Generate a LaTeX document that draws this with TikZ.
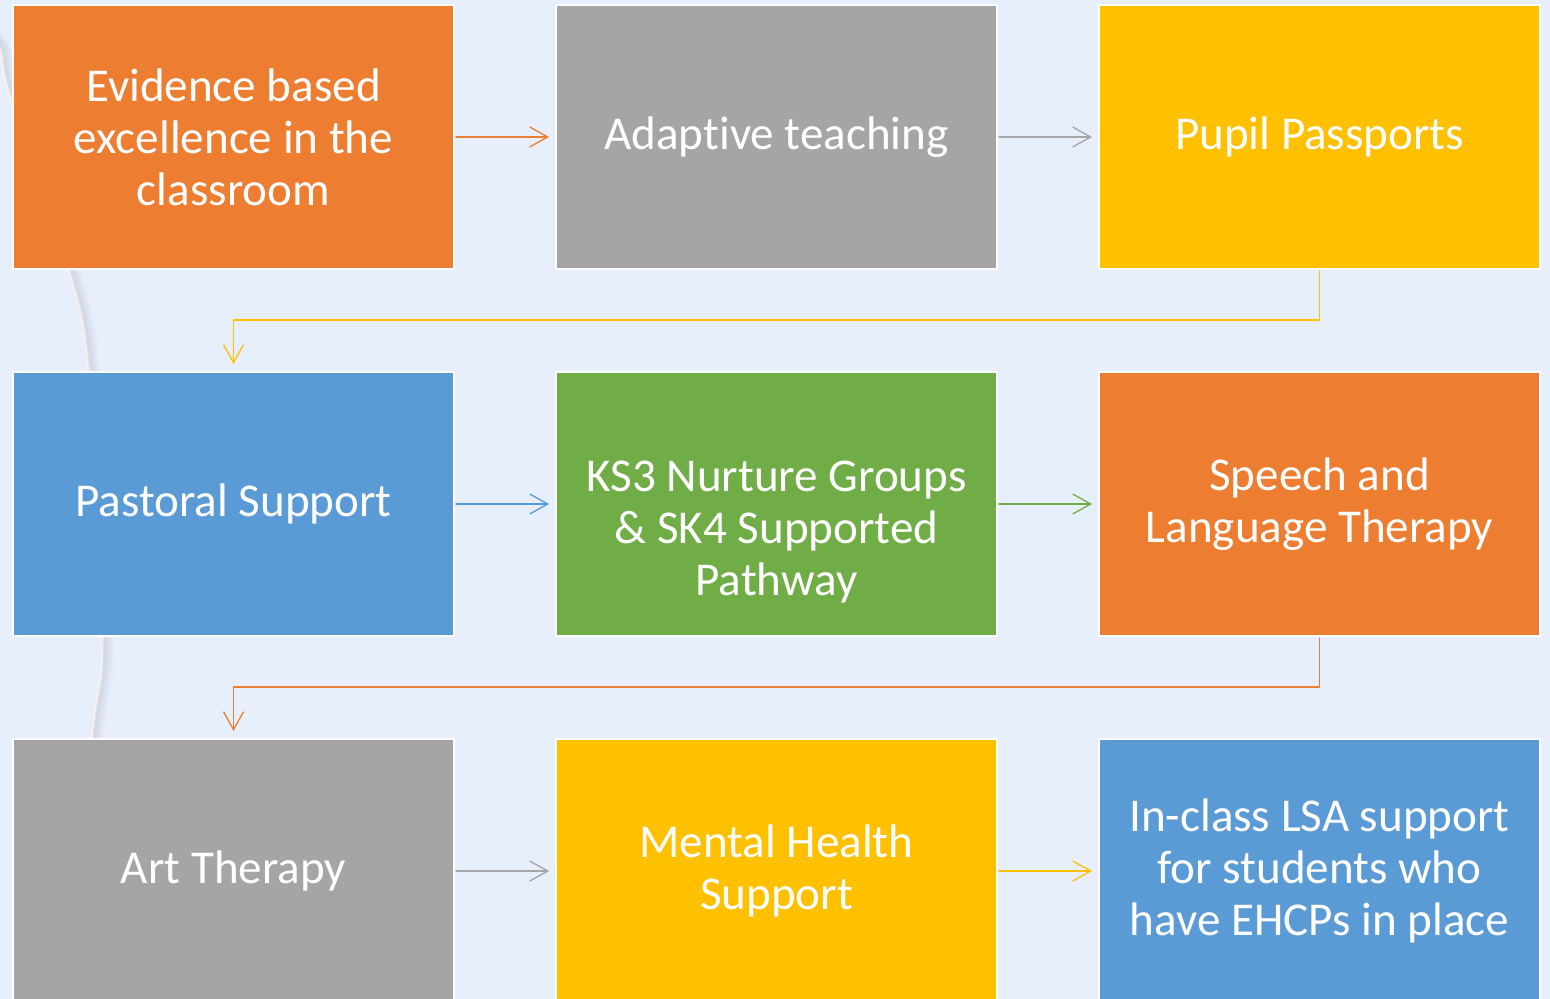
\documentclass[tikz,border=0pt]{standalone}
\usepackage{fontspec}
\setmainfont[Ligatures=NoCommon]{Carlito}
\usetikzlibrary{arrows.meta}
\definecolor{bgblue}{HTML}{E8EFFC}
\definecolor{cOrange}{HTML}{ED7D31}
\definecolor{cGray}{HTML}{A5A5A5}
\definecolor{cYellow}{HTML}{FFC000}
\definecolor{cBlue}{HTML}{5B9BD5}
\definecolor{cGreen}{HTML}{70AD47}
\tikzset{
  stagebox/.style={draw=white,line width=1.2pt,fill=#1,minimum width=8.82cm,minimum height=5.28cm,
    inner sep=0pt,outer sep=0pt,text=white,align=center,font=\fontsize{26.8}{29.6}\selectfont},
  boxtext/.style={text=white,align=center,font=\fontsize{26.8}{29.6}\selectfont},
  flow/.style={draw=#1,line width=0.75pt,-{Straight Barb[length=0.36cm,width=0.4cm,line width=0.75pt]},
    shorten <=0.04cm,shorten >=0.14cm}
}
\begin{document}
\begin{tikzpicture}[x=0.02cm,y=-0.02cm,line cap=round,line join=round]
			\useasboundingbox (0,0) rectangle (1550,999);
			\clip (0,0) rectangle (1550,999);
			\fill[bgblue] (0,0) rectangle (1550,999);
			% faint swoosh behind the boxes
			\foreach \d/\o in {2/0.10,4/0.08,6/0.06,8/0.04,10/0.02}
				\draw[gray,opacity=\o,line width=2.5pt,xshift=\d*0.02cm] plot[smooth] coordinates {(-12,30) (0,50) (10,97) (68,268) (88,368) (102,637) (92,734) (62,1010)};
			\draw[white!90!orange,line width=0.8pt] plot[smooth] coordinates {(-12,30) (0,50) (10,97) (68,268) (88,368) (102,637) (92,734) (62,1010)};
			% row 1
			\node[stagebox=cOrange] (evidence) at (233.5,137) {Evidence based\\excellence in the\\classroom};
			\node[stagebox=cGray] (adaptive) at (776.5,137) {Adaptive teaching};
			\node[stagebox=cYellow] (passport) at (1319.5,137) {Pupil Passports};
			% row 2
			\node[stagebox=cBlue] (pastoral) at (233.5,504) {Pastoral Support};
			\node[stagebox=cGreen,label={[boxtext,yshift=-0.56cm]center:KS3 Nurture Groups\\\& SK4 Supported\\Pathway}] (nurture) at (776.5,504) {};
			\node[stagebox=cOrange] (speech) at (1319.5,504) {Speech and\\Language Therapy};
			% row 3
			\node[stagebox=cGray] (art) at (233.5,871) {Art Therapy};
			\node[stagebox=cYellow] (mental) at (776.5,871) {Mental Health\\Support};
			\node[stagebox=cBlue] (lsa) at (1319.5,871) {In-class LSA support\\for students who\\have EHCPs in place};
			% connectors
			\draw[flow=cOrange] (evidence) -- (adaptive);
			\draw[flow=cGray] (adaptive) -- (passport);
			\draw[flow=cYellow,shorten >=0.16cm] (passport.south) -- ++(0,51) -| (pastoral.north);
			\draw[flow=cBlue] (pastoral) -- (nurture);
			\draw[flow=cGreen] (nurture) -- (speech);
			\draw[flow=cOrange,shorten >=0.16cm] (speech.south) -- ++(0,51) -| (art.north);
			\draw[flow=cGray] (art) -- (mental);
			\draw[flow=cYellow] (mental) -- (lsa);
		\end{tikzpicture}
\end{document}
